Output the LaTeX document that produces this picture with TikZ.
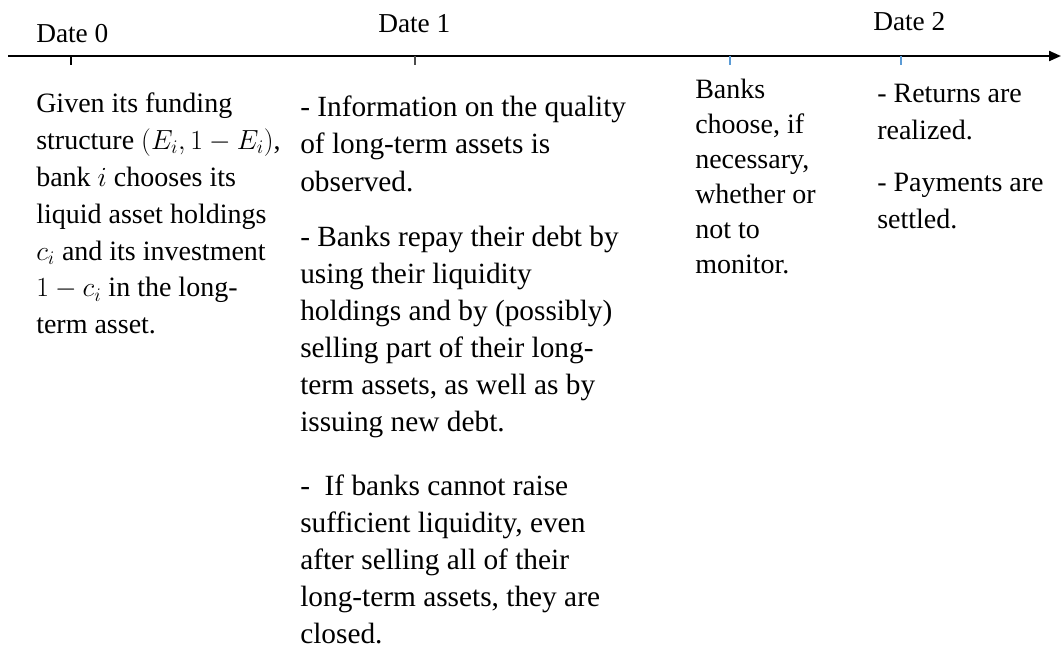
\documentclass[tikz,border=0pt]{standalone}
\usepackage{fontspec}
\setmainfont{Liberation Serif}
\usetikzlibrary{arrows.meta}

\definecolor{tickblue}{RGB}{91,155,213}

\begin{document}
\begin{tikzpicture}[
    x=0.75pt, y=-0.75pt,
    >={Triangle[length=9pt, width=7.5pt]},
    datelabel/.style={anchor=base west, inner sep=0pt, font=\fontsize{20.5}{24}\selectfont},
    textcol/.style={anchor=north west, inner sep=0pt, align=left},
    tick/.style={line width=1pt}
]
\useasboundingbox (0,0) rectangle (1061,650);

% time line
\coordinate (start) at (8,56);
\coordinate (stop) at (1061,56);
\draw[->, line width=1.6pt] (start) -- (stop);

% ticks
\coordinate (t0) at (71,56);
\coordinate (t1) at (415,56);
\coordinate (t2) at (730,56);
\coordinate (t3) at (901,56);
\draw[tick, black] (t0) -- ++(0,9);
\draw[tick, black!70] (t1) -- ++(0,9);
\draw[tick, tickblue] (t2) -- ++(0,9);
\draw[tick, tickblue] (t3) -- ++(0,9);

% dates
\node[datelabel] (date0) at (36,42) {Date 0};
\node[datelabel] (date1) at (378,32) {Date 1};
\node[datelabel] (date2) at (873,30) {Date 2};

% Date 0
\node[textcol, font=\fontsize{21}{27.6}\selectfont] (choice) at (36,93) {Given its funding\\
    structure $(E_i, 1 - E_i)$,\\
    bank $i$ chooses its\\
    liquid asset holdings\\
    $c_i$ and its investment\\
    $1 - c_i$ in the long-\\
    term asset.};

% Date 1
\node[textcol, font=\fontsize{22}{27.8}\selectfont] (repay) at (300,96) {- Information on the quality\\
    of long-term assets is\\
    observed.\\[13.5pt]
    - Banks repay their debt by\\
    using their liquidity\\
    holdings and by (possibly)\\
    selling part of their long-\\
    term assets, as well as by\\
    issuing new debt.\\[20pt]
    -\ \ If banks cannot raise\\
    sufficient liquidity, even\\
    after selling all of their\\
    long-term assets, they are\\
    closed.};

% monitoring
\node[textcol, font=\fontsize{21}{26.2}\selectfont] (monitor) at (695,79) {Banks\\
    choose, if\\
    necessary,\\
    whether or\\
    not to\\
    monitor.};

% Date 2
\node[textcol, font=\fontsize{21}{27.4}\selectfont] (settle) at (877,84) {- Returns are\\
    realized.\\[12pt]
    - Payments are\\
    settled.};

\end{tikzpicture}
\end{document}
